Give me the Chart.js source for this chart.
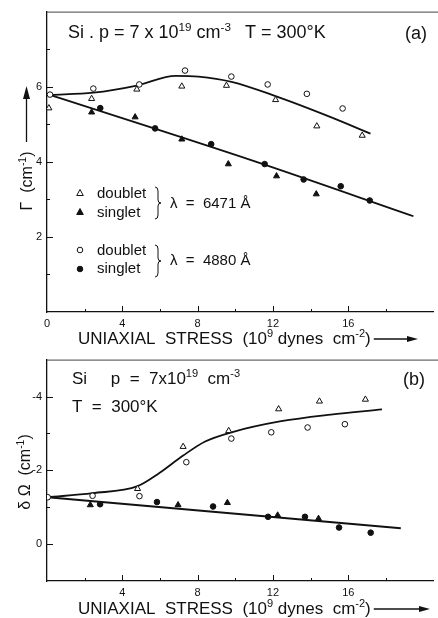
<!DOCTYPE html>
<html>
<head>
<meta charset="utf-8">
<script src="https://cdn.jsdelivr.net/npm/chart.js@4.4.1/dist/chart.umd.min.js"></script>
<style>
  html, body { margin: 0; padding: 0; background: #fff; }
  #wrap { position: relative; width: 438px; height: 618px; }
  canvas { position: absolute; left: 0; }
  #cA { top: 0; }
  #cB { top: 348px; }
</style>
</head>
<body>
<div id="wrap">
  <canvas id="cA" width="438" height="348"></canvas>
  <canvas id="cB" width="438" height="270"></canvas>
</div>
<script>
// ---- panel (a): Gamma (cm-1) vs uniaxial stress ----
const aOpenTri  = [[0.1,5.43],[2.37,5.68],[4.77,5.93],[7.16,6.01],[9.53,6.03],[12.14,5.65],[14.33,4.95],[16.74,4.7]];
const aFillTri  = [[2.37,5.32],[4.68,5.19],[7.16,4.6],[9.63,3.94],[12.19,3.62],[14.3,3.14]];
const aOpenCirc = [[0.16,5.79],[2.46,5.95],[4.9,6.06],[7.33,6.43],[9.79,6.27],[11.72,6.06],[13.8,5.81],[15.7,5.42]];
const aFillCirc = [[2.83,5.43],[5.74,4.89],[8.72,4.47],[11.56,3.94],[13.63,3.53],[15.6,3.35],[17.14,2.97]];
const aDoubletCurve = [[0.16,5.78],[2.46,5.84],[4.77,6.03],[6.83,6.29],[8.05,6.27],[9.8,6.13],[12.14,5.75],[15.07,5.19],[17.18,4.75]];
const aSingletLine  = [[0.16,5.78],[11.04,4.01],[19.46,2.55]];

// ---- panel (b): delta Omega (cm-1) vs uniaxial stress ----
const bOpenTri  = [[4.81,-1.5],[7.23,-2.64],[9.65,-3.07],[12.3,-3.66],[14.47,-3.87],[16.91,-3.92]];
const bFillTri  = [[2.3,-1.06],[6.96,-1.06],[9.58,-1.12],[12.25,-0.78],[14.42,-0.69]];
const bOpenCirc = [[0.04,-1.27],[2.42,-1.31],[4.91,-1.3],[7.4,-2.22],[9.79,-2.86],[11.91,-3.03],[13.84,-3.16],[15.82,-3.25]];
const bFillCirc = [[2.82,-1.08],[5.84,-1.14],[8.82,-1.02],[11.74,-0.74],[13.7,-0.74],[15.51,-0.45],[17.19,-0.31]];
const bDoubletCurve = [[0.04,-1.27],[2.42,-1.38],[4.81,-1.57],[5.95,-1.92],[7.23,-2.4],[8.4,-2.78],[9.8,-3.03],[12.44,-3.33],[15.07,-3.51],[17.79,-3.65]];
const bSingletLine  = [[0.04,-1.27],[18.79,-0.43]];

// tick labels / tick marks
const xLabelsA = [0,4,8,12,16];
const xLabelsB = [4,8,12,16];
const xMajor = [4,8,12,16];
const xMinor = [2,6,10,14,18];
const yLabelsA = [2,4,6];
const yMinorA = [1,3,5,7];
const yLabelsB = [-4,-2,0];
const yMinorB = [-3,-1];

const INK = '#111';
const FONT = '"Liberation Sans", Arial, sans-serif';

const pts = arr => arr.map(p => ({x: p[0], y: p[1]}));

function markers(data, style, filled, r) {
  return {
    type: 'scatter', data: pts(data), order: 1,
    pointStyle: style, pointRadius: r, pointHoverRadius: r,
    backgroundColor: filled ? INK : '#fff', borderColor: INK, borderWidth: 1
  };
}
function curve(data) {
  return {
    type: 'line', data: pts(data), order: 2, showLine: true,
    pointRadius: 0, borderColor: INK, borderWidth: 1.8,
    cubicInterpolationMode: 'monotone', fill: false
  };
}

// text with superscripts: parts = [[text, isSup], ...]
function rich(ctx, x, y, parts, size, align) {
  const widths = parts.map(p => {
    ctx.font = (p[1] ? size * 0.65 : size) + 'px ' + FONT;
    return ctx.measureText(p[0]).width;
  });
  const total = widths.reduce((s, w) => s + w, 0);
  let cx = align === 'center' ? x - total / 2 : x;
  ctx.textAlign = 'left';
  parts.forEach((p, i) => {
    ctx.font = (p[1] ? size * 0.65 : size) + 'px ' + FONT;
    ctx.fillText(p[0], cx, p[1] ? y - size * 0.4 : y);
    cx += widths[i];
  });
  return cx;
}

function arrowRight(ctx, x0, x1, y) {
  ctx.beginPath(); ctx.moveTo(x0, y); ctx.lineTo(x1 - 8, y); ctx.stroke();
  ctx.beginPath(); ctx.moveTo(x1, y); ctx.lineTo(x1 - 11, y - 3); ctx.lineTo(x1 - 11, y + 3); ctx.closePath(); ctx.fill();
}

function brace(ctx, x, y0, y1) {
  const m = (y0 + y1) / 2, w = 3;
  ctx.beginPath();
  ctx.moveTo(x, y0);
  ctx.quadraticCurveTo(x + w, y0, x + w, y0 + 4);
  ctx.lineTo(x + w, m - 3);
  ctx.quadraticCurveTo(x + w, m, x + w + 3, m);
  ctx.quadraticCurveTo(x + w, m, x + w, m + 3);
  ctx.lineTo(x + w, y1 - 4);
  ctx.quadraticCurveTo(x + w, y1, x, y1);
  ctx.stroke();
}

function legendMark(ctx, x, y, style, filled) {
  ctx.beginPath();
  if (style === 'triangle') {
    ctx.moveTo(x, y - 3.5); ctx.lineTo(x + 3.3, y + 2.5); ctx.lineTo(x - 3.3, y + 2.5); ctx.closePath();
  } else {
    ctx.arc(x, y, 2.8, 0, Math.PI * 2);
  }
  ctx.fillStyle = filled ? INK : '#fff';
  ctx.fill(); ctx.stroke();
  ctx.fillStyle = INK;
}

function frameTicks(chart, yMaj, yMin) {
  const {ctx, chartArea: a, scales: {x, y}} = chart;
  ctx.save();
  ctx.strokeStyle = INK; ctx.lineWidth = 1;
  ctx.beginPath();
  xMajor.forEach(v => { const p = Math.round(x.getPixelForValue(v)) + 0.5; ctx.moveTo(p, a.bottom); ctx.lineTo(p, a.bottom - 6); });
  xMinor.forEach(v => { const p = Math.round(x.getPixelForValue(v)) + 0.5; ctx.moveTo(p, a.bottom); ctx.lineTo(p, a.bottom - 3); });
  yMaj.forEach(v => { const p = Math.round(y.getPixelForValue(v)) + 0.5; ctx.moveTo(a.left, p); ctx.lineTo(a.left + 6, p); });
  yMin.forEach(v => { const p = Math.round(y.getPixelForValue(v)) + 0.5; ctx.moveTo(a.left, p); ctx.lineTo(a.left + 3, p); });
  ctx.stroke();
  // top border (no right border in the original)
  ctx.strokeStyle = '#444';
  ctx.beginPath(); ctx.moveTo(a.left, a.top + 0.5); ctx.lineTo(438, a.top + 0.5); ctx.stroke();
  ctx.restore();
}

function stressTitle(ctx, y, arrowEnd) {
  ctx.fillStyle = INK; ctx.strokeStyle = INK; ctx.lineWidth = 1.3;
  ctx.textBaseline = 'alphabetic';
  const end = rich(ctx, 78, y, [['UNIAXIAL  STRESS  (10', 0], ['9', 1], [' dynes  cm', 0], ['-2', 1], [')', 0]], 17, 'left');
  arrowRight(ctx, end + 3, arrowEnd, y - 5);
}

const annotA = {
  id: 'annotA',
  afterDraw(chart) {
    const ctx = chart.ctx;
    frameTicks(chart, yLabelsA, yMinorA);
    ctx.save();
    ctx.fillStyle = INK; ctx.strokeStyle = INK; ctx.textBaseline = 'alphabetic';
    rich(ctx, 68, 38, [['Si . p = 7 x 10', 0], ['19', 1], [' cm', 0], ['-3', 1]], 18, 'left');
    rich(ctx, 245, 38, [['T = 300°K', 0]], 18, 'left');
    ctx.font = '18px ' + FONT; ctx.fillText('(a)', 405, 39);

    // legend
    ctx.lineWidth = 1;
    legendMark(ctx, 80, 193, 'triangle', false);
    legendMark(ctx, 80, 212, 'triangle', true);
    legendMark(ctx, 80, 250, 'circle', false);
    legendMark(ctx, 80, 269, 'circle', true);
    ctx.font = '15px ' + FONT;
    ctx.fillText('doublet', 97, 198);
    ctx.fillText('singlet', 97, 217);
    ctx.fillText('doublet', 97, 255);
    ctx.fillText('singlet', 97, 273);
    brace(ctx, 155, 187, 219);
    brace(ctx, 155, 245, 277);
    ctx.font = '15px ' + FONT;
    ctx.fillText('λ  =  6471 Å', 170, 208);
    ctx.fillText('λ  =  4880 Å', 170, 265);

    // y title with arrow
    ctx.save();
    ctx.translate(32, 181); ctx.rotate(-Math.PI / 2);
    rich(ctx, 0, 0, [['Γ  (cm', 0], ['-1', 1], [')', 0]], 16, 'center');
    ctx.restore();
    ctx.lineWidth = 1.3;
    ctx.beginPath(); ctx.moveTo(26.5, 142); ctx.lineTo(26.5, 96); ctx.stroke();
    ctx.beginPath(); ctx.moveTo(26.5, 86); ctx.lineTo(23, 99); ctx.lineTo(30, 99); ctx.closePath(); ctx.fill();

    stressTitle(ctx, 344, 418);
    ctx.restore();
  }
};

const annotB = {
  id: 'annotB',
  afterDraw(chart) {
    const ctx = chart.ctx;
    frameTicks(chart, yLabelsB, yMinorB);
    ctx.save();
    ctx.fillStyle = INK; ctx.textBaseline = 'alphabetic';
    rich(ctx, 72, 36, [['Si     p  =  7x10', 0], ['19', 1], ['  cm', 0], ['-3', 1]], 17, 'left');
    rich(ctx, 72, 64, [['T  =  300°K', 0]], 17, 'left');
    ctx.font = '18px ' + FONT; ctx.fillText('(b)', 403, 37);

    ctx.save();
    ctx.translate(30, 124); ctx.rotate(-Math.PI / 2);
    rich(ctx, 0, 0, [['δ Ω  (cm', 0], ['-1', 1], [')', 0]], 16, 'center');
    ctx.restore();

    stressTitle(ctx, 266, 430);
    ctx.restore();
  }
};

function axes(yMin, yMax, reverse, yLabels, xLabels, xHeight) {
  return {
    x: {
      type: 'linear', min: 0, max: 20.5,
      ticks: { stepSize: 2, autoSkip: false, maxRotation: 0, padding: 5, color: INK,
               font: { family: FONT, size: 11 },
               callback: v => xLabels.includes(v) ? String(v) : '' },
      grid: { display: false, drawTicks: false },
      border: { display: true, color: INK, width: 1.3 },
      afterFit: s => { s.height = xHeight; }
    },
    y: {
      type: 'linear', min: yMin, max: yMax, reverse: reverse,
      ticks: { stepSize: 1, autoSkip: false, padding: 5, color: INK,
               font: { family: FONT, size: 11 },
               callback: v => yLabels.includes(v) ? String(v) : '' },
      grid: { display: false, drawTicks: false },
      border: { display: true, color: INK, width: 1.3 },
      afterFit: s => { s.width = 47; }
    }
  };
}

const common = {
  responsive: false, animation: false,
  plugins: { legend: { display: false }, tooltip: { enabled: false } },
  events: []
};

new Chart(document.getElementById('cA'), {
  type: 'scatter',
  data: { datasets: [
    curve(aDoubletCurve), curve(aSingletLine),
    markers(aOpenTri, 'triangle', false, 3.5), markers(aFillTri, 'triangle', true, 3.5),
    markers(aOpenCirc, 'circle', false, 2.8), markers(aFillCirc, 'circle', true, 2.8)
  ]},
  options: Object.assign({}, common, {
    layout: { padding: { top: 6, right: 1, left: 0, bottom: 0 } },
    scales: axes(0, 8, false, yLabelsA, xLabelsA, 36)
  }),
  plugins: [annotA]
});

new Chart(document.getElementById('cB'), {
  type: 'scatter',
  data: { datasets: [
    curve(bDoubletCurve), curve(bSingletLine),
    markers(bOpenTri, 'triangle', false, 3.5), markers(bFillTri, 'triangle', true, 3.5),
    markers(bOpenCirc, 'circle', false, 2.8), markers(bFillCirc, 'circle', true, 2.8)
  ]},
  options: Object.assign({}, common, {
    layout: { padding: { top: 3, right: 1, left: 0, bottom: 0 } },
    scales: axes(-5, 1, true, yLabelsB, xLabelsB, 37)
  }),
  plugins: [annotB]
});
</script>
</body>
</html>
